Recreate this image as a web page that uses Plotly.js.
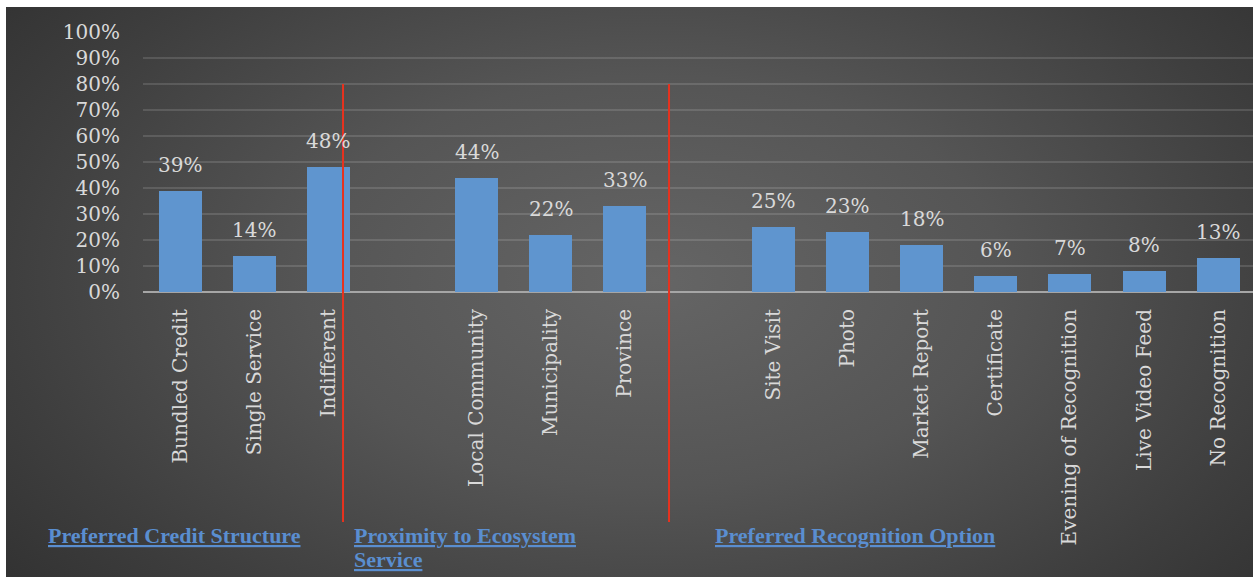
<!DOCTYPE html>
<html>
<head>
<meta charset="utf-8">
<script src="https://cdn.plot.ly/plotly-3.0.1.min.js"></script>
<style>
  html, body { margin: 0; padding: 0; background: #ffffff; width: 1253px; height: 579px; overflow: hidden; }
  #bg { position: absolute; left: 6px; top: 7px; width: 1247px; height: 570px;
        background: radial-gradient(ellipse 70% 90% at 52% 48%, #656565 0%, #555555 40%, #3e3e3e 75%, #2f2f2f 100%); }
  #chart { position: absolute; left: 0; top: 0; width: 1253px; height: 579px; }
</style>
</head>
<body>
<div id="bg"></div>
<div id="chart"></div>
<script>
// ---- data ----
const groupTitles = ["Preferred Credit Structure", "Proximity to Ecosystem", "Service", "Preferred Recognition Option"];
const creditLabels = ["Bundled Credit", "Single Service", "Indifferent"];
const creditValues = [39, 14, 48];
const proximityLabels = ["Local Community", "Municipality", "Province"];
const proximityValues = [44, 22, 33];
const recognitionLabels = ["Site Visit", "Photo", "Market Report", "Certificate", "Evening of Recognition", "Live Video Feed", "No Recognition"];
const recognitionValues = [25, 23, 18, 6, 7, 8, 13];
const yTickValues = [0, 10, 20, 30, 40, 50, 60, 70, 80, 90, 100];
const yTickText = ["0%", "10%", "20%", "30%", "40%", "50%", "60%", "70%", "80%", "90%", "100%"];

// ---- build slots with one empty slot between groups ----
const groups = [
  [creditLabels, creditValues],
  [proximityLabels, proximityValues],
  [recognitionLabels, recognitionValues]
];
const xs = [], ys = [], labels = [];
let pos = 0;
groups.forEach((g, gi) => {
  g[0].forEach((lab, i) => { xs.push(pos); ys.push(g[1][i]); labels.push(lab); pos++; });
  if (gi < groups.length - 1) pos++;
});

const textColor = "#d9d9d9";
const serif = "DejaVu Serif, serif";

const trace = {
  type: "bar",
  x: xs,
  y: ys,
  width: 0.58,
  marker: { color: "#5f95cf", line: { width: 0 } },
  hoverinfo: "skip"
};

const annotations = xs.map((x, i) => ({
  x: x, y: ys[i], xref: "x", yref: "y",
  text: ys[i] + "%",
  showarrow: false, yanchor: "bottom", yshift: 12,
  font: { family: serif, size: 20, color: textColor }
}));

const gFont = { family: "Liberation Serif, serif", size: 22, color: "#5a8ed0" };
const gPos = [[-0.0874, -0.935], [0.1883, -0.935], [0.1883, -1.027], [0.5135, -0.935]];
groupTitles.forEach((t, i) => {
  annotations.push({
    xref: "paper", yref: "paper", x: gPos[i][0], y: gPos[i][1],
    xanchor: "left", yanchor: "middle",
    text: "<b><u>" + t + "</u></b>", showarrow: false, font: gFont, align: "left"
  });
});

const shapes = [0.1802, 0.4739].map(px => ({
  type: "line", xref: "paper", yref: "paper",
  x0: px, x1: px, y0: 0.8, y1: -0.885,
  line: { color: "#e8321e", width: 2 }
}));

const layout = {
  width: 1253, height: 579,
  margin: { l: 143, r: 0, t: 32, b: 287 },
  paper_bgcolor: "rgba(0,0,0,0)",
  plot_bgcolor: "rgba(0,0,0,0)",
  showlegend: false,
  bargap: 0,
  xaxis: {
    range: [-0.5, 14.47],
    tickvals: xs, ticktext: labels,
    tickangle: -90,
    tickfont: { family: serif, size: 20, color: textColor },
    showgrid: false, zeroline: false, showline: false,
    ticks: "", ticklabelstandoff: 12,
    fixedrange: true
  },
  yaxis: {
    range: [0, 100],
    tickvals: yTickValues,
    ticktext: yTickText,
    tickfont: { family: serif, size: 20, color: textColor },
    showgrid: true, gridcolor: "rgba(255,255,255,0.13)", gridwidth: 2,
    zeroline: true, zerolinecolor: "#a6a6a6", zerolinewidth: 2,
    showline: false, ticks: "", ticklabelstandoff: 22,
    fixedrange: true
  },
  annotations: annotations,
  shapes: shapes
};

Plotly.newPlot("chart", [trace], layout, { staticPlot: true, displayModeBar: false });
</script>
</body>
</html>
